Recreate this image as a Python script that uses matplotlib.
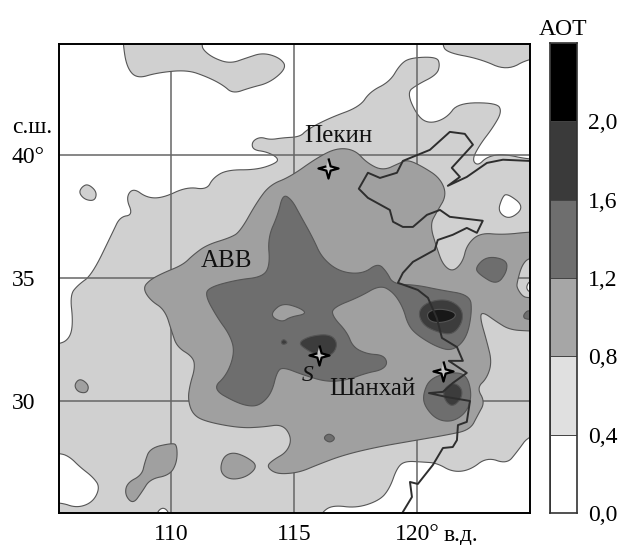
import matplotlib
matplotlib.use("Agg")
import matplotlib.pyplot as plt
import numpy as np

plt.rcParams['font.family'] = ['Liberation Serif', 'DejaVu Serif']

# AOT isoline regions, (lon, lat)
white_nw = [(104,32.28),(105.45,32.28),(105.90,32.56),(106.02,33.21),(105.90,34.31),(106.22,34.71),(106.79,35.12),(107.64,36.87),(107.93,37.48),(108.46,37.56),(108.17,38.25),(108.46,38.66),(109.03,38.25),(109.68,38.25),(110.65,38.70),(111.46,38.58),(111.71,39.06),(112.28,39.39),(113.50,39.39),(114.31,39.67),(114.35,39.88),(113.90,40.12),(113.33,40.20),(113.29,40.53),(113.62,40.73),(114.03,40.61),(114.55,40.69),(115.25,40.73),(115.53,41.02),(116.46,41.50),(117.68,41.95),(118.09,42.56),(118.90,42.97),(119.31,43.66),(119.72,43.94),(120.81,43.98),(120.94,43.66),(120.81,43.25),(120.0,42.84),(119.59,42.52),(120.04,41.54),(120.53,41.26),(121.22,41.50),(121.67,42.11),(123.25,42.11),(123.46,41.75),(123.09,41.10),(122.56,40.41),(122.24,39.80),(122.48,39.55),(122.85,39.92),(123.50,40.04),(124.60,39.80),(126,39.8),(126,45.8),(125.8,46),(104.2,46),(104,45.8)]
white_east = [(123.66,38.45),(124.39,37.89),(123.78,37.36),(123.29,37.68),(123.46,38.25)]
white_notch = [(125.5,35.0),(124.6,34.92),(124.43,34.6),(124.6,34.39),(125.5,34.3)]
white_se = [(116.0,25),(116.14,25.49),(116.59,25.77),(117.56,25.65),(118.50,25.97),(118.90,26.46),(119.19,27.28),(119.51,27.56),(120.24,27.52),(120.81,27.48),(121.46,27.11),(122.16,27.19),(122.85,27.72),(123.66,27.44),(124.07,27.93),(124.60,28.66),(126,28.7),(126,24),(116,24)]
white_sw = [(104,27.9),(105.49,27.89),(105.90,27.72),(106.30,27.32),(106.83,26.91),(107.12,26.50),(106.83,25.89),(106.18,25.65),(105.49,25.89),(104,25.9)]
white_south = [(109.43,25.49),(109.68,25.69),(109.92,25.49),(109.95,25.0),(109.4,25.0)]

light_ne = [(121.0,46),(121.02,44.51),(121.22,44.15),(122.56,43.90),(123.66,43.41),(124.6,43.94),(126,44),(126,46)]
light_n = [(108.0,46),(108.05,44.51),(108.21,43.54),(108.62,43.09),(109.43,43.33),(110.65,43.45),(111.46,43.17),(112.11,42.84),(112.52,42.48),(113.21,42.72),(114.03,42.93),(114.72,43.54),(114.43,43.94),(113.74,44.15),(113.09,43.94),(112.40,43.70),(111.71,43.94),(111.30,44.27),(111.26,44.51),(111.2,46)]
light_w = [(106.63,38.82),(106.99,38.50),(106.91,38.13),(106.51,38.17),(106.26,38.45),(106.38,38.70)]

mid_main = [(108.86,34.59),(109.15,34.10),(109.76,33.70),(110.04,32.80),(110.25,32.19),(110.90,31.79),(110.98,31.34),(110.77,30.65),(110.69,30.04),(110.90,29.43),(111.46,29.15),(112.81,28.90),(113.74,28.94),(114.55,29.06),(114.92,28.49),(114.72,27.93),(114.15,27.60),(113.90,27.36),(114.15,27.11),(114.55,27.03),(115.25,27.11),(115.94,27.40),(117.0,27.80),(118.38,28.13),(120.0,28.41),(121.22,28.62),(122.16,28.82),(122.48,29.43),(122.77,29.96),(122.44,30.53),(122.85,30.93),(123.05,31.58),(122.85,32.40),(122.56,33.41),(122.68,33.62),(123.25,33.21),(123.78,32.89),(124.60,32.84),(126,32.8),(126,34.1),(124.60,34.19),(124.31,34.23),(124.07,34.59),(124.07,34.80),(124.27,35.53),(124.60,35.85),(126,36),(126,36.9),(124.60,36.87),(123.50,36.75),(122.56,36.83),(122.03,36.34),(121.87,35.65),(121.46,35.24),(121.06,35.53),(120.81,36.22),(120.53,37.15),(120.81,37.68),(121.22,38.37),(120.94,39.06),(120.25,39.51),(119.64,39.80),(119.31,39.67),(118.62,39.35),(117.97,39.67),(117.48,40.20),(116.75,40.28),(115.94,39.88),(114.84,39.10),(114.03,38.78),(113.50,38.09),(112.81,36.87),(112.40,36.63),(111.46,36.34),(110.90,35.93),(110.49,35.53),(109.68,35.20),(109.15,34.92)]
mid_a = [(106.30,30.93),(106.67,30.65),(106.59,30.32),(106.22,30.36),(106.06,30.65)]
mid_b = [(110.25,28.21),(110.04,28.29),(109.15,28.09),(108.94,27.52),(108.82,26.99),(108.21,26.67),(108.13,26.18),(108.46,25.81),(108.82,26.30),(109.15,26.83),(109.96,26.99),(110.25,27.52)]
mid_c = [(112.52,27.93),(112.11,27.72),(111.99,27.11),(112.40,26.79),(113.09,26.91),(113.54,27.36),(113.09,27.72)]

dark_main = [(114.55,38.41),(114.92,38.17),(115.25,37.56),(115.77,36.63),(116.14,35.81),(116.87,35.24),(117.81,35.16),(118.42,35.61),(118.78,35.24),(119.03,34.75),(120.0,34.71),(120.94,34.51),(122.16,34.31),(122.24,33.62),(122.03,32.56),(121.46,32.03),(120.81,32.19),(120.0,32.68),(119.64,33.09),(119.43,33.82),(119.03,34.43),(118.50,34.71),(117.68,34.23),(116.55,33.78),(116.59,33.41),(117.16,32.80),(117.40,32.19),(117.97,31.91),(118.62,31.87),(118.82,31.54),(118.58,31.26),(117.97,31.14),(117.16,30.85),(116.34,30.77),(115.37,31.06),(114.55,31.38),(114.31,31.18),(114.11,30.37),(113.74,29.92),(113.33,29.76),(112.68,29.92),(111.67,30.49),(112.28,31.06),(112.60,31.99),(112.40,32.68),(111.87,33.41),(111.38,34.31),(111.59,34.63),(112.68,34.92),(113.74,35.04),(114.03,35.53),(113.94,36.63),(114.35,37.56)]
mid_hole = [(114.11,33.62),(114.55,33.98),(115.25,33.78),(115.53,33.54),(114.84,33.41),(114.55,33.21),(114.15,33.37)]
dark_e1 = [(122.36,35.41),(122.85,35.89),(123.66,35.73),(123.66,35.24),(123.25,34.71),(122.56,35.12)]
dark_e2 = [(124.31,33.45),(124.47,33.66),(124.6,33.66),(125.5,33.66),(125.5,33.3),(124.43,33.3)]
dark_s = [(116.18,28.49),(116.42,28.70),(116.71,28.49),(116.46,28.29)]
dark_sh = [(120.53,30.93),(121.46,31.18),(122.03,31.06),(122.24,30.24),(122.03,29.55),(121.46,29.15),(120.81,29.23),(120.33,29.76),(120.24,30.24)]

deep_sh = [(121.46,30.77),(121.83,30.53),(121.83,30.12),(121.46,29.75),(121.14,30.0),(121.06,30.45)]
deep_n = [(120.04,33.62),(120.41,34.02),(121.22,34.15),(121.83,33.78),(121.87,33.21),(121.46,32.68),(120.81,32.80),(120.24,33.09)]
deep_s = [(115.16,32.36),(115.65,32.64),(116.46,32.72),(116.79,32.36),(116.59,31.87),(116.06,31.79),(115.53,32.07)]
deep_t = [(114.47,32.40),(114.59,32.52),(114.76,32.36),(114.55,32.28)]
peak = [(120.40,33.62),(120.94,33.76),(121.60,33.60),(121.52,33.33),(120.94,33.16),(120.48,33.25)]

coast = [(124.6,39.75),(123.50,39.80),(122.85,39.67),(122.03,39.10),(121.26,38.74),(121.75,39.10),(121.42,39.47),(122.28,40.41),(121.95,40.85),(121.34,40.93),(120.53,40.20),(119.43,39.75),(119.19,39.27),(118.50,39.06),(118.01,39.27),(117.64,38.62),(118.01,38.25),(118.90,37.76),(119.03,37.28),(119.43,37.07),(119.84,37.07),(120.41,37.56),(120.94,37.76),(121.34,37.48),(122.68,37.32),(122.44,36.83),(122.03,37.03),(121.46,36.75),(120.85,36.54),(120.73,36.14),(119.84,35.65),(119.43,35.20),(119.23,34.80),(120.04,34.51),(120.45,34.19),(120.81,33.37),(121.02,32.56),(121.63,32.19),(121.87,31.63),(121.30,31.63),(122.03,31.14),(121.46,30.73),(121.06,30.37),(120.49,30.32),(121.22,30.16),(122.16,30.0),(122.03,29.15),(121.67,29.02),(121.63,28.41),(121.46,28.13),(121.06,28.09),(120.65,27.40),(120.04,26.63),(119.72,26.71),(119.80,26.10),(119.43,25.49)]

station_lon = [116.38, 116.02, 121.06]
station_lat = [39.47, 31.87, 31.22]
labels = ['Пекин', 'АВВ', 'Шанхай']
label_lon = [116.79, 112.28, 118.21]
label_lat = [40.78, 35.69, 30.49]

lon_ticks = [110, 115, 120]
lon_labels = ['110', '115', '120°']
lat_ticks = [30, 35, 40]
lat_labels = ['30', '35', '40°']
bar_levels = [0.0, 0.4, 0.8, 1.2, 1.6, 2.0, 2.4]
bar_labels = ['0,0', '0,4', '0,8', '1,2', '1,6', '2,0']
bar_colors = ['#ffffff', '#e0e0e0', '#a6a6a6', '#6e6e6e', '#3a3a3a', '#000000']

C_LIGHT, C_MID, C_DARK, C_DEEP, C_PEAK = '#d0d0d0', '#a0a0a0', '#6e6e6e', '#3c3c3c', '#181818'
FS = 17


def smooth(points, n=3):
    """Chaikin corner cutting of a closed ring."""
    p = np.asarray(points, float)
    for _ in range(n):
        q = np.roll(p, -1, axis=0)
        p = np.column_stack([0.75 * p + 0.25 * q, 0.25 * p + 0.75 * q]).reshape(-1, 2)
    return p


fig = plt.figure(figsize=(6.22, 5.45), dpi=100)
W, H = 622, 545
ax = fig.add_axes([59 / W, (H - 513) / H, 471 / W, 469 / H])
ax.set_xlim(105.45, 124.6)
ax.set_ylim(25.45, 44.5)
ax.set_facecolor(C_LIGHT)

layers = [
    ('white', [white_nw, white_east, white_notch, white_se, white_sw, white_south]),
    (C_LIGHT, [light_ne, light_n, light_w]),
    (C_MID, [mid_main, mid_a, mid_b, mid_c]),
    (C_DARK, [dark_main, dark_e1, dark_e2, dark_s, dark_sh]),
    (C_MID, [mid_hole]),
    (C_DEEP, [deep_sh, deep_n, deep_s, deep_t]),
    (C_PEAK, [peak]),
]
z = 2
for color, rings in layers:
    for ring in rings:
        r = smooth(ring)
        ax.fill(r[:, 0], r[:, 1], facecolor=color, edgecolor='#555555', lw=0.8, zorder=z)
    z += 1

ax.set_xticks(lon_ticks, lon_labels)
ax.set_yticks(lat_ticks, lat_labels)
ax.grid(True, color='#666666', lw=1.1, zorder=20)
ax.set_axisbelow(False)
ax.tick_params(axis='both', length=0, labelsize=FS)
ax.tick_params(axis='x', pad=8)
ax.tick_params(axis='y', pad=34)
for t in ax.get_yticklabels():
    t.set_ha('left')
for s in ax.spines.values():
    s.set_linewidth(1.4)
    s.set_zorder(40)

cx, cy = zip(*coast)
ax.plot(cx, cy, color='#2e2e2e', lw=1.4, zorder=30, solid_joinstyle='round')

# four-pointed station marks
a = np.linspace(0, 2 * np.pi, 9)[:-1]
rad = np.where(np.arange(8) % 2 == 0, 1.0, 0.3)
star = np.column_stack([rad * np.sin(a), rad * np.cos(a)])
ax.scatter(station_lon, station_lat, marker=star, s=210, facecolor='#c8c8c8',
           edgecolor='black', linewidths=1.6, zorder=35)

for txt, lo, la in zip(labels, label_lon, label_lat):
    ax.text(lo, la, txt, ha='center', va='center', fontsize=18, color='#111111', zorder=36)
ax.text(115.57, 31.02, 'S', style='italic', ha='center', va='center', fontsize=FS, color='#111111', zorder=36)

ax.annotate('с.ш.', xy=(0, 41.1), xycoords=ax.get_yaxis_transform(), xytext=(-34, 0),
            textcoords='offset points', ha='left', va='center', fontsize=FS)
ax.annotate('в.д.', xy=(120, 0), xycoords=ax.get_xaxis_transform(), xytext=(19, -9),
            textcoords='offset points', ha='left', va='top', fontsize=FS)

cax = fig.add_axes([549.5 / W, (H - 513) / H, 27.5 / W, 470 / H])
cax.bar([0] * len(bar_colors), np.diff(bar_levels), bottom=bar_levels[:-1], width=1,
        color=bar_colors, edgecolor='#444444', linewidth=0.7)
cax.set_xlim(-0.5, 0.5)
cax.set_ylim(bar_levels[0], bar_levels[-1])
cax.set_xticks([])
cax.yaxis.tick_right()
cax.set_yticks(bar_levels[:-1], bar_labels)
cax.tick_params(axis='y', length=0, labelsize=FS, pad=8)
for s in cax.spines.values():
    s.set_linewidth(1.2)
    s.set_color('#333333')
cax.set_title('AOT', fontsize=FS, pad=6)

fig.savefig('out.png', dpi=100)
